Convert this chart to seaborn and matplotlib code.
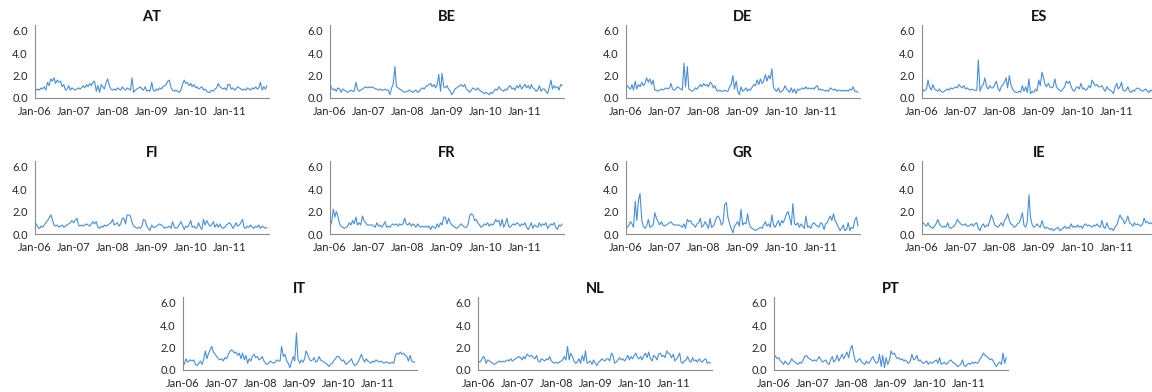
import numpy as np
import pandas as pd
import matplotlib
matplotlib.use("Agg")
import matplotlib.pyplot as plt
import matplotlib.dates as mdates
import seaborn as sns

# Semi-monthly observations, Jan 2006 - Dec 2011 (24 per year)
dates = pd.date_range("2006-01-01", periods=144, freq="SMS")

AT = [1.0,0.7, 0.8,0.7, 0.9,0.8, 1.0,0.7, 1.4,1.1, 1.7,1.5, 1.8,1.3, 1.6,1.4, 1.5,1.0, 1.2,0.7, 0.8,1.1, 0.7,0.9,
      0.8,0.7, 0.8,0.9, 0.8,0.9, 1.1,0.9, 1.2,1.0, 1.3,1.1, 1.4,1.5, 0.6,1.1, 0.5,1.2, 1.0,0.8, 1.4,1.7, 1.1,0.8,
      0.7,0.8, 0.7,0.9, 0.8,0.7, 1.0,0.8, 0.7,0.9, 0.8,0.7, 1.8,0.5, 0.7,0.8, 0.9,1.0, 0.8,0.7, 1.0,0.6, 0.7,0.6,
      1.4,0.7, 0.6,0.8, 0.7,0.9, 0.8,1.0, 1.1,1.2, 1.5,1.6, 0.9,0.7, 0.6,0.7, 0.6,0.5, 0.7,1.2, 1.6,1.3, 1.4,1.1,
      1.3,1.0, 1.2,0.9, 1.0,0.8, 0.9,1.0, 0.7,0.8, 0.6,0.5, 0.5,0.7, 0.6,0.8, 0.9,1.3, 1.0,0.9, 0.8,0.9, 0.7,1.2,
      1.2,0.8, 0.9,0.7, 0.8,1.0, 0.9,0.8, 0.7,0.8, 0.7,0.9, 0.8,0.7, 0.9,0.8, 1.0,0.8, 0.9,1.4, 0.7,1.0, 0.8,1.1]

BE = [1.3,0.9, 0.7,0.8, 0.6,0.9, 0.8,0.5, 0.8,0.7, 0.6,0.5, 0.6,0.7, 0.6,0.6, 1.4,0.8, 0.6,0.7, 0.8,0.9, 1.0,0.9,
      1.0,0.9, 1.0,0.9, 0.8,0.8, 0.7,0.8, 0.7,0.7, 0.8,0.7, 0.7,0.3, 0.9,1.2, 2.8,1.0, 0.9,0.8, 0.7,0.6, 0.5,0.6,
      0.6,0.7, 0.6,0.5, 0.6,0.7, 0.5,0.6, 0.8,0.9, 0.8,1.0, 1.1,1.2, 1.3,1.0, 1.2,0.9, 1.2,2.1, 0.6,2.2, 1.0,0.9,
      1.1,0.8, 0.6,0.3, 0.5,0.8, 0.9,1.0, 1.1,1.2, 1.0,1.2, 0.8,0.7, 0.5,0.7, 0.9,0.8, 0.7,0.9, 0.7,0.6, 0.5,0.4,
      0.5,0.4, 0.3,0.5, 0.4,0.6, 0.8,0.7, 1.0,0.8, 0.7,0.6, 0.8,0.7, 1.0,1.1, 0.8,0.9, 0.7,1.1, 0.9,1.2, 0.8,1.0,
      1.2,0.9, 1.1,0.8, 1.2,0.9, 0.8,0.6, 0.7,1.1, 0.6,0.8, 0.8,0.6, 0.4,0.9, 1.6,0.8, 1.1,0.9, 1.0,0.7, 1.2,1.1]

DE = [0.7,1.1, 0.9,0.8, 1.2,0.7, 1.5,0.8, 1.2,1.0, 1.4,1.1, 1.3,1.8, 1.4,1.7, 1.2,1.6, 0.7,0.7, 0.6,0.7, 0.8,0.7,
      0.8,0.9, 0.8,0.9, 1.3,0.8, 0.7,0.8, 1.0,0.9, 0.8,0.7, 3.1,1.0, 2.8,0.8, 0.7,0.6, 0.7,0.9, 0.8,1.0, 1.2,1.0,
      1.3,1.1, 1.2,1.0, 1.4,1.3, 0.9,1.1, 0.7,0.6, 0.7,0.6, 0.6,0.7, 0.6,0.6, 1.0,1.2, 2.0,0.8, 1.5,0.6, 0.3,1.0,
      0.6,0.7, 0.9,0.6, 0.8,0.7, 1.0,1.2, 1.1,1.6, 1.2,1.7, 1.3,1.5, 2.1,1.5, 2.0,1.7, 2.6,1.0, 0.7,0.6, 0.9,0.5,
      0.6,0.7, 1.1,0.8, 0.7,0.5, 0.9,0.5, 0.8,0.4, 0.8,0.7, 0.8,0.9, 0.8,1.0, 0.8,0.9, 0.8,0.9, 0.8,1.0, 1.1,0.7,
      0.8,0.7, 0.7,0.6, 0.7,0.6, 0.9,0.8, 0.7,0.8, 0.6,0.7, 0.7,0.6, 0.7,0.6, 0.7,0.6, 0.8,0.7, 1.0,0.6, 0.6,0.5]

ES = [1.2,0.6, 0.7,0.8, 1.6,1.0, 0.7,1.2, 0.8,0.7, 0.6,0.8, 0.6,0.5, 0.6,0.7, 0.8,0.7, 0.9,0.8, 0.9,1.0, 0.9,1.2,
      1.0,0.9, 1.1,0.8, 0.9,0.8, 0.7,0.8, 0.7,0.7, 0.7,3.4, 0.6,1.0, 1.2,1.8, 1.0,0.8, 1.1,0.9, 0.9,1.2, 1.5,0.9,
      0.6,1.0, 1.2,1.4, 1.8,0.9, 2.0,1.2, 0.8,0.6, 0.5,0.5, 0.6,0.5, 1.1,0.6, 1.0,0.5, 1.7,0.4, 0.6,0.5, 0.8,0.6,
      1.6,1.1, 2.3,1.8, 1.2,1.0, 1.3,1.0, 0.9,1.0, 1.7,1.0, 0.8,0.7, 0.6,0.8, 1.0,1.5, 1.3,1.5, 1.0,0.7, 0.6,0.9,
      1.0,0.8, 1.3,0.8, 0.9,0.7, 0.8,1.1, 0.9,1.6, 1.3,1.1, 1.2,1.0, 1.0,1.1, 0.8,0.6, 1.0,0.8, 0.7,0.6, 0.4,0.9,
      1.3,0.8, 1.0,1.4, 0.7,0.6, 0.7,1.0, 0.6,0.5, 0.7,0.6, 0.8,0.9, 0.8,0.7, 0.6,0.7, 0.8,0.6, 0.5,0.7, 0.6,0.8]

FI = [0.8,0.9, 0.6,0.5, 0.7,0.6, 0.8,1.0, 1.2,1.4, 1.7,1.3, 0.8,0.7, 0.8,0.6, 0.7,0.8, 0.6,0.7, 0.8,0.9, 1.0,1.2,
      1.0,1.2, 1.4,0.8, 0.7,0.8, 0.7,0.8, 0.9,0.8, 0.7,0.9, 1.1,0.9, 1.1,0.6, 0.5,0.7, 0.6,0.8, 0.7,0.8, 0.9,1.0,
      1.3,0.8, 0.9,1.0, 0.7,0.9, 1.4,1.4, 0.9,1.7, 1.7,1.6, 1.0,0.7, 0.6,0.5, 0.6,0.5, 0.7,1.3, 1.2,0.7, 0.5,0.3,
      0.8,0.6, 0.6,0.7, 0.8,0.9, 0.8,0.7, 0.5,0.6, 0.6,0.7, 0.5,1.1, 0.6,0.5, 0.6,0.8, 1.1,0.8, 0.4,0.7, 0.6,0.8,
      1.2,0.6, 0.7,0.5, 0.6,1.0, 0.6,0.4, 1.3,0.8, 1.2,0.9, 0.7,0.8, 1.1,0.6, 0.9,0.6, 0.9,0.6, 0.5,0.6, 0.8,0.9,
      1.0,0.8, 0.5,0.7, 1.0,0.7, 0.8,1.0, 1.3,0.6, 0.5,0.7, 0.6,0.8, 0.6,0.5, 0.7,0.6, 0.8,0.5, 0.7,0.6, 0.5,0.6]

FR = [0.7,1.0, 2.2,1.5, 2.0,1.6, 0.9,0.7, 0.6,0.5, 0.6,0.7, 1.0,0.8, 1.2,0.9, 1.5,0.8, 1.0,0.8, 1.6,1.2, 1.0,0.8,
      0.8,0.8, 0.8,0.7, 0.6,1.0, 0.7,0.8, 0.6,0.8, 1.1,0.6, 0.7,0.6, 0.8,0.9, 0.8,0.9, 0.7,0.9, 0.8,0.9, 1.4,0.9,
      0.8,1.0, 0.7,0.9, 0.8,0.6, 0.9,0.7, 0.6,0.7, 0.6,0.7, 0.6,0.7, 0.4,0.7, 0.6,0.5, 0.9,0.6, 1.0,0.8, 1.5,1.5,
      0.9,1.4, 1.0,0.8, 0.7,0.6, 0.5,0.6, 0.8,0.9, 0.7,0.6, 0.6,0.8, 1.6,1.8, 1.7,1.2, 1.3,1.0, 0.8,0.6, 0.7,0.9,
      0.8,1.0, 0.7,0.9, 0.8,0.9, 1.3,1.1, 1.2,0.7, 1.3,0.6, 0.9,1.4, 0.7,0.6, 0.8,0.9, 0.8,1.0, 0.9,0.7, 0.9,0.8,
      1.0,0.6, 0.4,0.7, 1.0,0.5, 0.8,0.7, 0.6,1.0, 0.7,0.9, 0.8,1.0, 0.5,0.7, 0.9,0.8, 1.0,0.6, 0.4,0.8, 0.7,0.9]

GR = [0.7,0.6, 0.8,1.1, 0.9,0.6, 2.9,1.2, 3.0,3.6, 1.2,0.7, 0.5,0.7, 1.3,0.6, 0.7,0.8, 1.9,1.4, 1.1,0.8, 1.1,0.8,
      0.7,0.8, 0.9,1.0, 1.1,0.9, 0.8,0.8, 0.8,0.8, 0.7,0.6, 0.9,0.5, 1.3,1.1, 1.2,0.9, 0.8,0.6, 0.9,1.0, 1.4,0.6,
      0.8,1.1, 0.8,0.5, 1.4,0.6, 0.7,1.0, 1.5,1.6, 1.3,0.8, 1.0,2.6, 2.8,1.5, 0.9,0.5, 0.1,0.7, 0.9,1.1, 0.7,2.2,
      0.8,1.0, 0.9,1.8, 1.0,0.6, 0.5,0.4, 0.3,0.4, 0.5,0.6, 0.5,0.8, 1.1,0.7, 0.9,0.6, 1.7,0.8, 0.6,0.9, 1.2,0.7,
      1.2,1.0, 1.4,1.8, 2.0,1.5, 0.8,2.7, 0.9,0.8, 1.0,0.6, 0.9,0.7, 0.5,1.6, 0.6,0.7, 0.5,0.9, 1.0,0.8, 0.7,0.6,
      1.0,0.9, 0.4,0.9, 1.0,1.3, 1.6,1.2, 1.8,1.2, 0.9,0.6, 0.3,0.5, 0.8,0.3, 0.4,1.0, 0.3,0.6, 0.5,1.2, 1.5,0.7]

IE = [1.1,1.0, 0.8,0.7, 1.0,0.7, 0.6,0.5, 0.7,0.9, 1.3,0.9, 0.7,0.6, 0.7,0.6, 1.0,0.6, 0.5,0.6, 0.7,0.9, 1.3,1.1,
      0.9,0.8, 0.8,0.9, 0.7,0.7, 0.8,0.9, 0.7,0.9, 1.0,0.5, 0.3,0.7, 0.9,0.6, 0.8,0.7, 1.2,1.7, 1.3,0.8, 0.7,0.6,
      0.8,1.0, 0.7,1.2, 1.4,1.8, 1.2,0.9, 0.8,0.6, 0.7,0.9, 1.0,1.3, 1.9,0.8, 0.6,1.1, 3.5,1.5, 0.8,0.6, 0.7,0.9,
      0.7,0.6, 1.2,0.7, 0.5,0.6, 0.5,0.4, 0.5,0.3, 0.4,0.5, 0.6,0.3, 0.4,0.5, 0.7,0.5, 0.6,0.5, 0.9,0.6, 0.7,0.6,
      0.8,0.6, 0.7,0.5, 0.8,0.9, 0.7,0.8, 0.7,0.6, 0.8,0.7, 0.9,0.7, 0.6,1.2, 0.6,0.5, 1.0,0.6, 0.4,0.5, 0.3,0.6,
      0.8,1.2, 1.7,1.4, 1.3,0.9, 1.2,1.6, 1.0,0.9, 0.7,1.0, 0.8,0.9, 0.8,0.7, 0.9,1.4, 1.0,1.1, 0.9,1.0, 0.9,0.9]

IT = [0.6,0.5, 1.0,0.7, 0.8,0.9, 0.8,0.9, 0.5,0.4, 0.6,0.8, 0.5,0.9, 1.7,1.0, 1.5,1.8, 2.1,1.6, 1.4,1.2, 1.0,0.9,
      1.0,0.8, 1.1,1.0, 1.3,1.6, 1.8,1.7, 1.5,1.6, 1.3,1.5, 1.0,1.5, 0.9,1.3, 0.6,1.0, 0.8,1.2, 1.4,1.1, 1.2,0.9,
      1.0,1.2, 0.8,0.6, 0.5,0.6, 0.8,0.7, 0.6,0.7, 0.9,0.8, 0.8,2.1, 1.2,1.4, 0.8,0.6, 0.2,0.7, 1.2,0.8, 3.3,1.0,
      0.6,0.9, 0.7,1.0, 1.7,1.4, 1.0,0.8, 0.9,1.1, 0.7,0.8, 1.2,0.9, 0.8,0.7, 0.6,0.5, 0.3,0.5, 0.6,0.8, 1.0,1.2,
      1.2,1.0, 0.8,0.9, 0.6,0.5, 0.7,0.8, 1.0,0.6, 0.4,0.5, 0.7,1.0, 1.4,1.0, 0.7,1.0, 0.8,0.7, 0.6,0.8, 0.7,0.9,
      0.8,0.7, 0.8,0.7, 0.6,0.7, 0.7,0.6, 0.6,0.7, 0.6,1.3, 1.5,1.4, 1.6,1.4, 1.5,1.3, 1.2,0.8, 1.3,0.8, 0.7,0.7]

NL = [0.8,0.7, 0.9,1.2, 1.1,0.6, 0.9,0.8, 0.7,0.6, 0.5,0.6, 0.7,0.8, 0.7,0.8, 0.7,0.8, 0.9,0.8, 1.0,0.8, 0.9,1.0,
      1.1,1.2, 1.1,0.9, 1.2,1.0, 1.4,1.3, 1.2,1.3, 1.1,1.0, 1.3,0.8, 0.7,1.0, 0.9,0.8, 1.0,0.9, 1.2,0.8, 0.7,0.6,
      0.7,0.6, 0.7,0.8, 0.9,1.2, 0.9,2.1, 0.9,1.5, 1.2,0.8, 0.6,0.7, 1.0,0.6, 1.3,0.8, 1.7,0.6, 0.7,0.8, 0.5,0.9,
      0.6,0.4, 0.7,0.8, 1.0,0.9, 0.8,1.0, 1.0,0.8, 1.5,1.3, 0.6,0.7, 0.9,1.1, 0.9,1.0, 0.8,1.0, 1.3,0.9, 1.2,1.0,
      1.3,1.5, 1.1,1.0, 1.2,0.9, 1.3,1.5, 1.1,1.6, 1.0,0.8, 1.3,1.2, 0.9,1.4, 1.5,1.2, 1.3,1.1, 1.7,1.5, 1.4,1.1,
      1.4,0.8, 1.0,1.2, 1.5,0.7, 0.6,0.8, 0.9,1.2, 0.8,0.7, 1.1,0.8, 0.9,0.7, 1.0,0.8, 0.7,0.9, 1.0,0.6, 0.7,0.6]

PT = [1.4,1.2, 1.0,1.1, 0.8,0.7, 0.5,0.8, 0.6,0.5, 0.7,1.0, 0.8,0.7, 0.6,0.5, 0.7,0.6, 0.9,1.2, 1.3,1.1, 1.0,0.9,
      0.8,0.9, 0.8,1.0, 1.2,0.9, 0.7,0.8, 0.9,0.6, 0.5,0.9, 1.2,0.7, 0.9,1.3, 0.8,1.1, 1.4,1.0, 1.3,1.6, 1.1,1.8,
      2.2,1.5, 0.8,0.7, 0.9,1.0, 0.7,0.6, 0.5,0.8, 0.6,0.7, 1.0,1.2, 0.8,0.6, 0.7,1.4, 0.3,1.3, 0.2,1.1, 0.5,0.8,
      1.7,1.4, 1.5,1.2, 1.0,1.1, 0.9,1.0, 0.8,0.9, 0.7,0.6, 0.8,1.4, 0.9,1.0, 1.3,0.8, 0.9,0.7, 0.6,0.7, 0.8,0.5,
      0.7,0.6, 0.7,0.8, 0.9,0.6, 1.1,0.5, 0.6,0.7, 0.5,0.6, 0.8,0.9, 0.7,0.6, 0.5,0.3, 0.4,0.5, 0.9,0.4, 0.3,0.5,
      0.6,0.5, 0.7,0.6, 0.7,0.6, 0.7,1.0, 1.2,1.5, 1.3,1.2, 1.1,0.9, 1.0,0.8, 0.5,0.3, 0.6,0.7, 0.5,1.5, 0.6,1.1]

countries = ["AT", "BE", "DE", "ES", "FI", "FR", "GR", "IE", "IT", "NL", "PT"]
series = {"AT": AT, "BE": BE, "DE": DE, "ES": ES, "FI": FI, "FR": FR,
          "GR": GR, "IE": IE, "IT": IT, "NL": NL, "PT": PT}
y_ticks = [0.0, 2.0, 4.0, 6.0]

sns.set_theme(style="white")
plt.rcParams["font.family"] = ["Lato", "DejaVu Sans"]

W, H = 1152, 392
fig = plt.figure(figsize=(W / 100, H / 100), dpi=100)

# pixel layout (left, bottom of plot area)
row_bottoms = [98, 234, 370]
lefts_full = [34.7, 330, 625.7, 921.7]
lefts_last = [182.7, 478.3, 774]
aw, ah = 234, 73

positions = []
for r in range(2):
    for l in lefts_full:
        positions.append((l, row_bottoms[r]))
for l in lefts_last:
    positions.append((l, row_bottoms[2]))

line_color = "#4A8FD8"
axis_color = "#8C8C8C"
text_color = "#262626"

for name, (l, b) in zip(countries, positions):
    ax = fig.add_axes([l / W, 1 - b / H, aw / W, ah / H])
    df = pd.DataFrame({"date": dates, "value": series[name]})
    sns.lineplot(data=df, x="date", y="value", ax=ax, color=line_color, linewidth=0.8)
    ax.set_xlim(pd.Timestamp("2006-01-01"), pd.Timestamp("2012-01-01"))
    ax.set_ylim(0, 6.5)
    ax.set_yticks(y_ticks)
    ax.set_yticklabels([f"{v:.1f}" for v in y_ticks])
    ax.set_xticks([pd.Timestamp(f"{y}-01-01") for y in range(2006, 2012)])
    ax.xaxis.set_major_formatter(mdates.DateFormatter("%b-%y"))
    ax.set_xlabel("")
    ax.set_ylabel("")
    for s in ["top", "right"]:
        ax.spines[s].set_visible(False)
    for s in ["left", "bottom"]:
        ax.spines[s].set_color(axis_color)
        ax.spines[s].set_linewidth(0.8)
    ax.tick_params(axis="both", which="major", direction="out", length=3, width=0.8,
                   color=axis_color, labelsize=8, labelcolor=text_color, pad=2)
    ax.tick_params(axis="x", pad=3)
    ax.set_title(name, fontsize=10.5, fontweight="bold", color="#111111", pad=3)
    ax.grid(False)

fig.savefig("out.png", dpi=100)
